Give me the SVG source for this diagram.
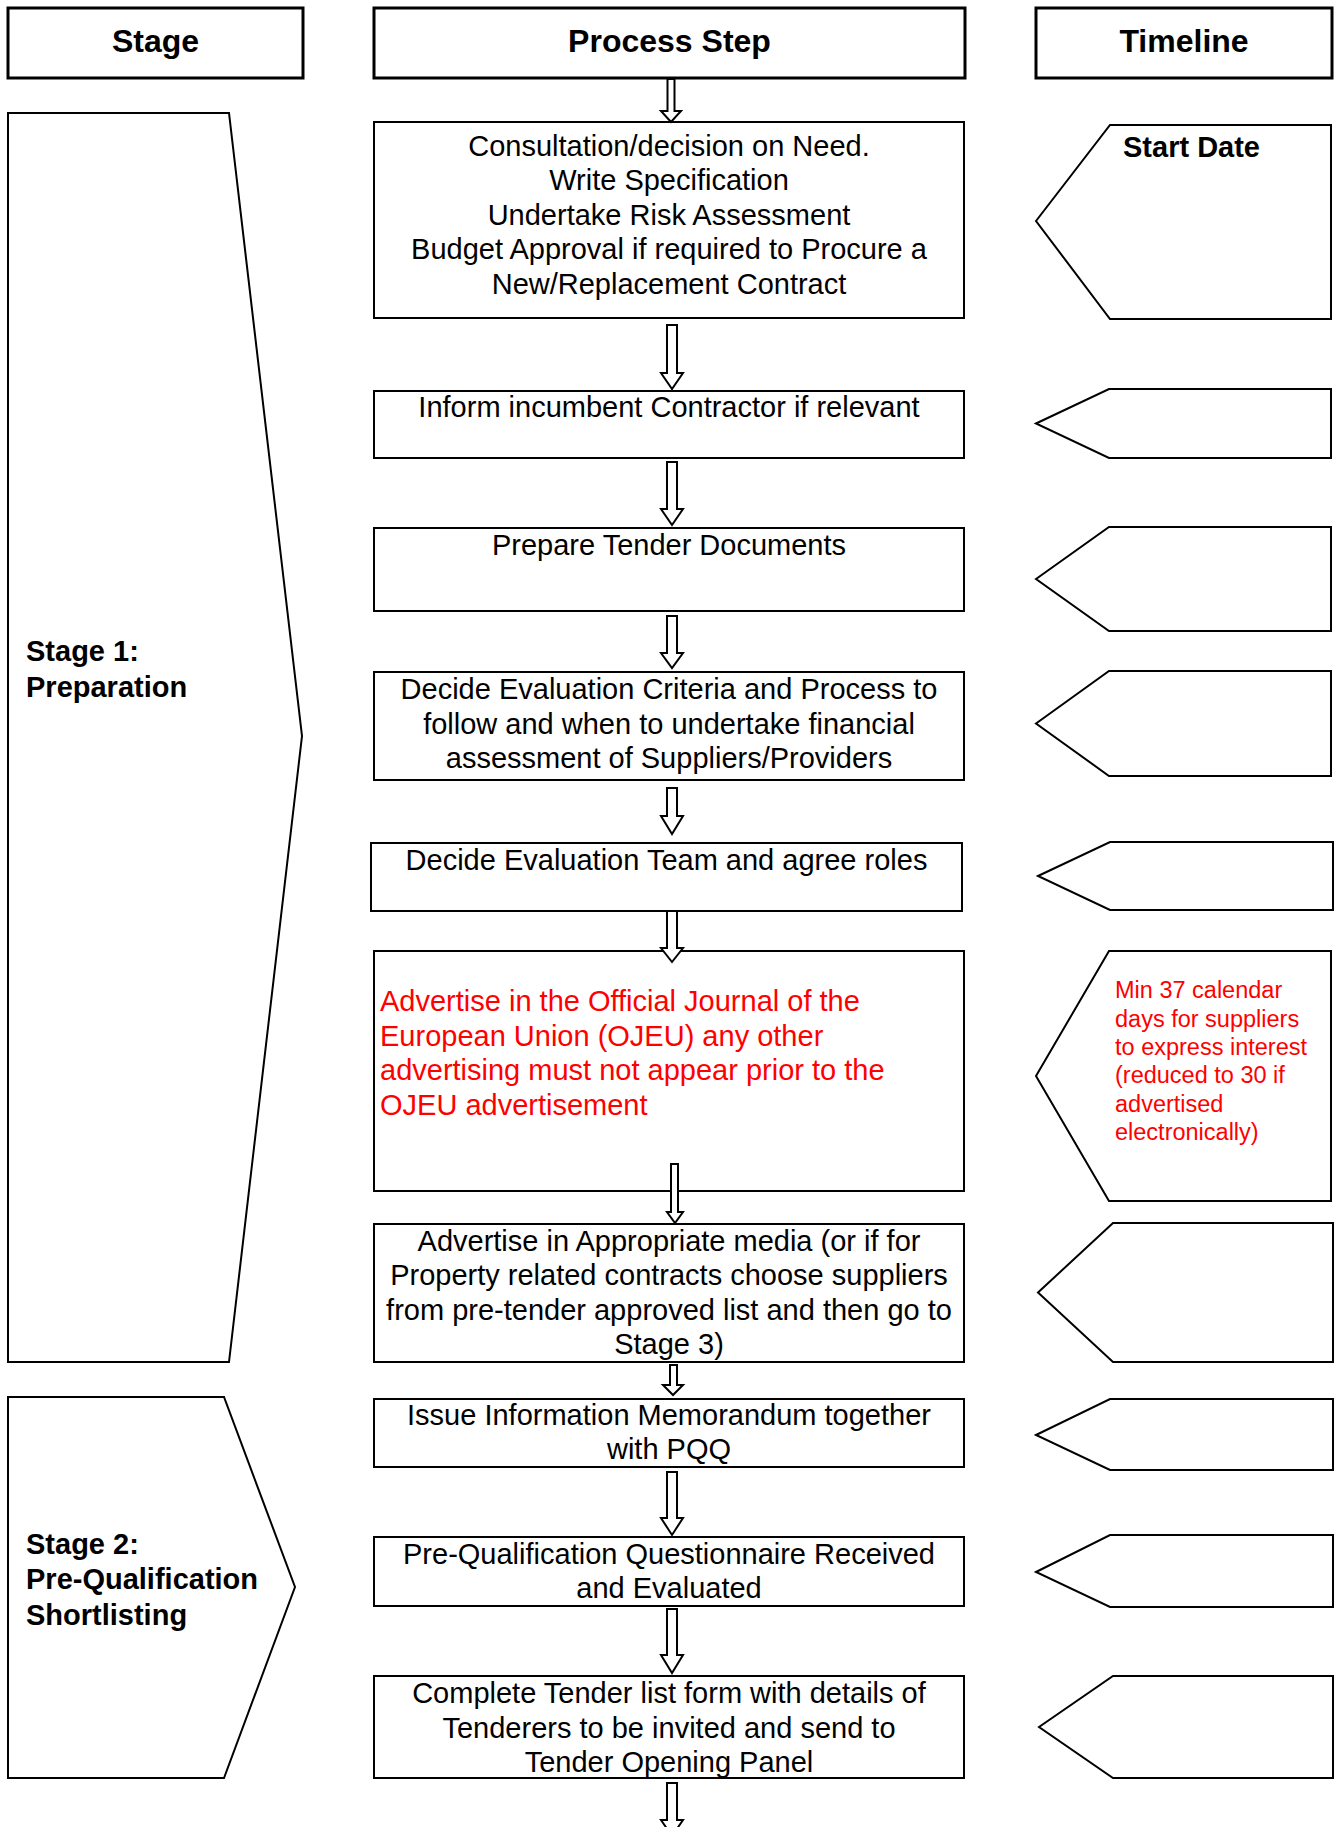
<svg xmlns="http://www.w3.org/2000/svg" width="1334" height="1827" viewBox="0 0 1334 1827">
<style>
  .hdr { fill: #fff; stroke: #000; stroke-width: 3; }
  .box { fill: #fff; stroke: #000; stroke-width: 2; }
  .shape { fill: #fff; stroke: #000; stroke-width: 2; stroke-linejoin: miter; }
  .arrow { fill: #fff; stroke: #000; stroke-width: 2; stroke-linejoin: miter; }
  text { font-family: "Liberation Sans", Arial, sans-serif; }
  .ht { font-size: 32px; font-weight: bold; text-anchor: middle; fill: #000; }
  .t { font-size: 29px; text-anchor: middle; fill: #000; }
  .red { font-size: 29px; fill: #ff0000; }
  .lbl { font-size: 29px; font-weight: bold; fill: #000; }
  .tred { font-size: 23.5px; fill: #ff0000; }
</style>
<rect width="1334" height="1827" fill="#fff"/>

<g id="header-stage"><rect class="hdr" x="8" y="8" width="295" height="70"/><text class="ht" x="155.5" y="52">Stage</text></g>
<g id="header-process"><rect class="hdr" x="374" y="8" width="591" height="70"/><text class="ht" x="669.5" y="52">Process Step</text></g>
<g id="header-timeline"><rect class="hdr" x="1036" y="8" width="296" height="70"/><text class="ht" x="1184" y="52">Timeline</text></g>

<g id="stage1"><polygon class="shape" points="8,113 229,113 302,736 229,1362 8,1362"/>
  <text class="lbl" x="26" y="661">Stage 1:</text><text class="lbl" x="26" y="697">Preparation</text></g>
<g id="stage2"><polygon class="shape" points="8,1397 224,1397 295,1587 224,1778 8,1778"/>
  <text class="lbl" x="26" y="1554">Stage 2:</text><text class="lbl" x="26" y="1589">Pre-Qualification</text><text class="lbl" x="26" y="1625">Shortlisting</text></g>

<g id="step1"><rect class="box" x="374" y="122" width="590" height="196"/>
  <text class="t" x="669" y="155.5">Consultation/decision on Need.</text>
  <text class="t" x="669" y="190">Write Specification</text>
  <text class="t" x="669" y="224.5">Undertake Risk Assessment</text>
  <text class="t" x="669" y="259">Budget Approval if required to Procure a</text>
  <text class="t" x="669" y="293.5">New/Replacement Contract</text></g>
<g id="step2"><rect class="box" x="374" y="391" width="590" height="67"/>
  <text class="t" x="669" y="417">Inform incumbent Contractor if relevant</text></g>
<g id="step3"><rect class="box" x="374" y="528" width="590" height="83"/>
  <text class="t" x="669" y="555">Prepare Tender Documents</text></g>
<g id="step4"><rect class="box" x="374" y="672" width="590" height="108"/>
  <text class="t" x="669" y="699">Decide Evaluation Criteria and Process to</text>
  <text class="t" x="669" y="733.5">follow and when to undertake financial</text>
  <text class="t" x="669" y="768">assessment of Suppliers/Providers</text></g>
<g id="step5"><rect class="box" x="371" y="843" width="591" height="68"/>
  <text class="t" x="666.5" y="870">Decide Evaluation Team and agree roles</text></g>
<g id="step6"><rect class="box" x="374" y="951" width="590" height="240"/>
  <text class="red" x="380" y="1011">Advertise in the Official Journal of the</text>
  <text class="red" x="380" y="1046">European Union (OJEU) any other</text>
  <text class="red" x="380" y="1080">advertising must not appear prior to the</text>
  <text class="red" x="380" y="1115">OJEU advertisement</text></g>
<g id="step7"><rect class="box" x="374" y="1224" width="590" height="138"/>
  <text class="t" x="669" y="1251">Advertise in Appropriate media (or if for</text>
  <text class="t" x="669" y="1285">Property related contracts choose suppliers</text>
  <text class="t" x="669" y="1320">from pre-tender approved list and then go to</text>
  <text class="t" x="669" y="1354">Stage 3)</text></g>
<g id="step8"><rect class="box" x="374" y="1399" width="590" height="68"/>
  <text class="t" x="669" y="1425">Issue Information Memorandum together</text>
  <text class="t" x="669" y="1459">with PQQ</text></g>
<g id="step9"><rect class="box" x="374" y="1537" width="590" height="69"/>
  <text class="t" x="669" y="1564">Pre-Qualification Questionnaire Received</text>
  <text class="t" x="669" y="1598">and Evaluated</text></g>
<g id="step10"><rect class="box" x="374" y="1676" width="590" height="102"/>
  <text class="t" x="669" y="1703">Complete Tender list form with details of</text>
  <text class="t" x="669" y="1737.5">Tenderers to be invited and send to</text>
  <text class="t" x="669" y="1772">Tender Opening Panel</text></g>

<g id="time1"><polygon class="shape" points="1036,221 1110,125 1331,125 1331,319 1110,319"/>
  <text class="lbl" x="1123" y="157">Start Date</text></g>
<g id="time2"><polygon class="shape" points="1036,423.5 1109,389 1331,389 1331,458 1109,458"/></g>
<g id="time3"><polygon class="shape" points="1036,579 1109,527 1331,527 1331,631 1109,631"/></g>
<g id="time4"><polygon class="shape" points="1036,723.5 1109,671 1331,671 1331,776 1109,776"/></g>
<g id="time5"><polygon class="shape" points="1038,876 1110,842 1333,842 1333,910 1110,910"/></g>
<g id="time6"><polygon class="shape" points="1036,1076 1109,951 1331,951 1331,1201 1109,1201"/>
  <text class="tred" x="1115" y="998">Min 37 calendar</text>
  <text class="tred" x="1115" y="1027">days for suppliers</text>
  <text class="tred" x="1115" y="1055">to express interest</text>
  <text class="tred" x="1115" y="1083">(reduced to 30 if</text>
  <text class="tred" x="1115" y="1112">advertised</text>
  <text class="tred" x="1115" y="1140">electronically)</text></g>
<g id="time7"><polygon class="shape" points="1038,1292.5 1113,1223 1333,1223 1333,1362 1113,1362"/></g>
<g id="time8"><polygon class="shape" points="1036,1435 1110,1399 1333,1399 1333,1470 1110,1470"/></g>
<g id="time9"><polygon class="shape" points="1036,1572 1110,1535 1333,1535 1333,1607 1110,1607"/></g>
<g id="time10"><polygon class="shape" points="1039,1727 1113,1676 1333,1676 1333,1778 1113,1778"/></g>

<g id="connectors">
  <path class="arrow" d="M667.5,79 H674.5 V111 H681 L671,122 L661,111 H667.5 Z"/>
  <path class="arrow" d="M667,325 H677 V373 H683 L672,389 L661,373 H667 Z"/>
  <path class="arrow" d="M667,462 H677 V509 H683 L672,525 L661,509 H667 Z"/>
  <path class="arrow" d="M667,616 H677 V653 H683 L672,668 L661,653 H667 Z"/>
  <path class="arrow" d="M667,788 H677 V816 H683 L672,834 L661,816 H667 Z"/>
  <path class="arrow" d="M667,911 H677 V948 H683 L672,962 L661,948 H667 Z"/>
  <path class="arrow" d="M671,1164 H678 V1212 H683 L675,1223 L667,1212 H671 Z"/>
  <path class="arrow" d="M670,1365 H677 V1385 H683 L673,1395 L663,1385 H670 Z"/>
  <path class="arrow" d="M667,1472 H677 V1518 H683 L672,1535 L661,1518 H667 Z"/>
  <path class="arrow" d="M667,1609 H677 V1655 H683 L672,1673 L661,1655 H667 Z"/>
  <path class="arrow" d="M667,1783 H677 V1820 H683 L672,1836 L661,1820 H667 Z"/>
</g>
</svg>
